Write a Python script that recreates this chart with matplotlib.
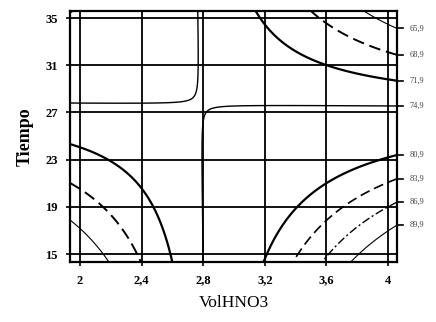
import numpy as np
import matplotlib.pyplot as plt

# Axis ticks
x_ticks = [2.0, 2.4, 2.8, 3.2, 3.6, 4.0]
x_tick_labels = ["2", "2,4", "2,8", "3,2", "3,6", "4"]
y_ticks = [15, 19, 23, 27, 31, 35]
y_tick_labels = ["15", "19", "23", "27", "31", "35"]

# Fitted response surface in coded units u = VolHNO3 - 3, v = (Tiempo - 25) / 10
# terms: 1, u, v, u*v, u^2, v^2, u^2*v, u*v^2
surface_coefs = [75.48851, 2.85453, -2.30685, -10.96941, 0.04347, -0.00579, -0.53493, 0.66693]
center_x = 3.0
center_y = 25.0
scale_y = 10.0

# Contour levels, labels and line styles
levels = [65.9, 68.9, 71.9, 74.9, 80.9, 83.9, 86.9, 89.9]
level_labels = ["65,9", "68,9", "71,9", "74,9", "80,9", "83,9", "86,9", "89,9"]
styles = ['solid', (0, (6, 3)), 'solid', 'solid',
          'solid', (0, (6, 3)), (0, (6, 2, 1.5, 2)), 'solid']
widths = [0.8, 1.4, 1.6, 1.0, 1.6, 1.2, 1.0, 0.8]


def surface(vol, t):
    u = vol - center_x
    v = (t - center_y) / scale_y
    b = surface_coefs
    return (b[0] + b[1] * u + b[2] * v + b[3] * u * v + b[4] * u * u
            + b[5] * v * v + b[6] * u * u * v + b[7] * u * v * v)


plt.rcParams['font.family'] = ['Liberation Serif', 'DejaVu Serif']

fig = plt.figure(figsize=(4.36, 3.22), dpi=100)
ax = fig.add_axes([0.1606, 0.1863, 0.75, 0.7795])

xlim = (1.935, 4.058)
ylim = (14.33, 35.6)

gx = np.linspace(xlim[0], xlim[1], 500)
gy = np.linspace(ylim[0], ylim[1], 500)
X, Y = np.meshgrid(gx, gy)
Z = surface(X, Y)

ax.contour(X, Y, Z, levels=levels, colors='black',
           linestyles=styles, linewidths=widths)

ax.set_xlim(*xlim)
ax.set_ylim(*ylim)
ax.set_xticks(x_ticks)
ax.set_xticklabels(x_tick_labels, fontsize=9, fontweight='bold')
ax.set_yticks(y_ticks)
ax.set_yticklabels(y_tick_labels, fontsize=9, fontweight='bold')
ax.tick_params(direction='out', length=3, width=1.2, pad=6)
ax.grid(True, color='black', linewidth=1.3)
ax.set_axisbelow(True)
for s in ax.spines.values():
    s.set_linewidth(1.6)

ax.set_xlabel("VolHNO3", fontsize=12.5, labelpad=6)
ax.set_ylabel("Tiempo", fontsize=13, fontweight='bold', labelpad=8)

# Level labels where each contour leaves the right edge of the plot
x_edge = xlim[1]
edge_z = surface(x_edge, gy)
for lev, lab in zip(levels, level_labels):
    d = edge_z - lev
    idx = np.where(np.sign(d[:-1]) != np.sign(d[1:]))[0]
    for i in idx:
        y_exit = gy[i] + (gy[i + 1] - gy[i]) * d[i] / (d[i] - d[i + 1])
        ax.plot([x_edge, x_edge + 0.04], [y_exit, y_exit], color='black',
                linewidth=1.2, clip_on=False)
        ax.text(x_edge + 0.08, y_exit, lab, fontsize=6, va='center',
                ha='left', color='#444444')

fig.savefig("out.png", dpi=100)
